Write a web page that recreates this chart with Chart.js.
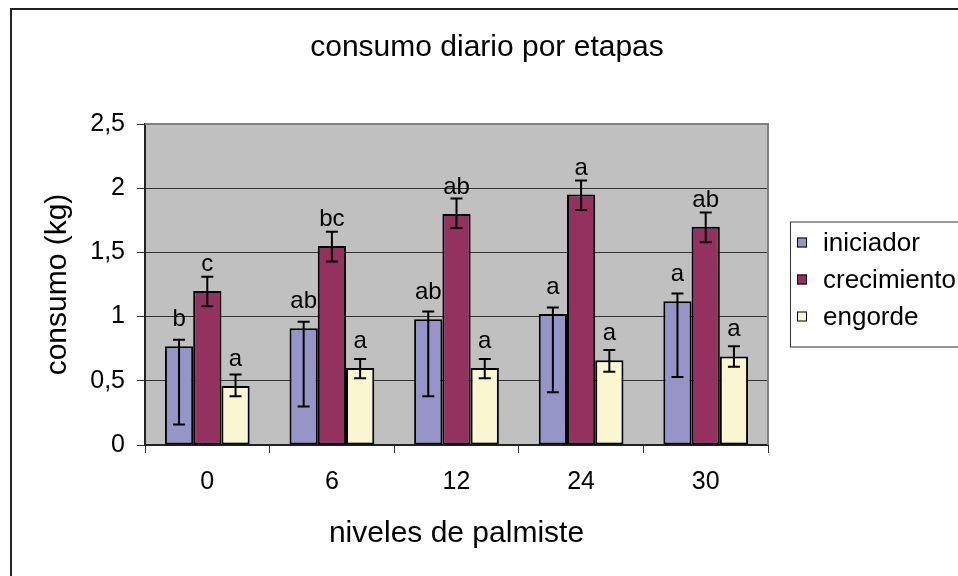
<!DOCTYPE html>
<html>
<head>
<meta charset="utf-8">
<script src="https://cdn.jsdelivr.net/npm/chart.js@4"></script>
<style>
  body { margin: 0; background: #fff; }
  #wrap { width: 958px; height: 576px; }
</style>
</head>
<body>
<div id="wrap"><canvas id="consumoChart"></canvas></div>
<script>
const niveles = ['0', '6', '12', '24', '30'];
const yTickLabels = ['0', '0,5', '1', '1,5', '2', '2,5'];

const iniciador = [0.77, 0.91, 0.98, 1.02, 1.12];
const crecimiento = [1.20, 1.55, 1.80, 1.95, 1.70];
const engorde = [0.46, 0.60, 0.60, 0.66, 0.69];

// error bars (plus / minus)
const iniciadorPlus = [0.05, 0.05, 0.06, 0.05, 0.06];
const iniciadorMinus = [0.61, 0.61, 0.60, 0.61, 0.59];
const crecimientoPlus = [0.11, 0.11, 0.12, 0.11, 0.11];
const crecimientoMinus = [0.12, 0.12, 0.11, 0.12, 0.12];
const engordePlus = [0.09, 0.07, 0.07, 0.08, 0.08];
const engordeMinus = [0.08, 0.08, 0.08, 0.09, 0.08];

// significance letters
const iniciadorLetras = ['b', 'ab', 'ab', 'a', 'a'];
const crecimientoLetras = ['c', 'bc', 'ab', 'a', 'ab'];
const engordeLetras = ['a', 'a', 'a', 'a', 'a'];

const FONT = "'Liberation Sans', Arial, sans-serif";

const errores = [
  { plus: iniciadorPlus, minus: iniciadorMinus, letras: iniciadorLetras },
  { plus: crecimientoPlus, minus: crecimientoMinus, letras: crecimientoLetras },
  { plus: engordePlus, minus: engordeMinus, letras: engordeLetras }
];

// gray plot background + outer frame
const fondoPlugin = {
  id: 'fondo',
  beforeDraw(chart) {
    const { ctx, chartArea: a } = chart;
    ctx.save();
    ctx.strokeStyle = '#222';
    ctx.lineWidth = 2;
    ctx.strokeRect(11, 9, 1000, 1000);
    ctx.fillStyle = '#c0c0c0';
    ctx.fillRect(a.left, a.top, a.right - a.left, a.bottom - a.top);
    ctx.restore();
  },
  beforeDatasetsDraw(chart) {
    const { ctx, chartArea: a } = chart;
    ctx.save();
    ctx.strokeStyle = '#808080';
    ctx.lineWidth = 2;
    ctx.beginPath();
    ctx.moveTo(a.left, a.top);
    ctx.lineTo(a.right, a.top);
    ctx.lineTo(a.right, a.bottom);
    ctx.stroke();
    ctx.restore();
  }
};

// error bars and letters above bars
const erroresPlugin = {
  id: 'errores',
  afterDatasetsDraw(chart) {
    const { ctx } = chart;
    const y = chart.scales.y;
    ctx.save();
    chart.data.datasets.forEach((ds, i) => {
      const meta = chart.getDatasetMeta(i);
      const e = errores[i];
      meta.data.forEach((bar, j) => {
        const v = ds.data[j];
        const yHi = y.getPixelForValue(v + e.plus[j]);
        const yLo = y.getPixelForValue(v - e.minus[j]);
        ctx.strokeStyle = '#000';
        ctx.lineWidth = 2;
        ctx.beginPath();
        ctx.moveTo(bar.x, yHi);
        ctx.lineTo(bar.x, yLo);
        ctx.moveTo(bar.x - 6, yHi);
        ctx.lineTo(bar.x + 6, yHi);
        ctx.moveTo(bar.x - 6, yLo);
        ctx.lineTo(bar.x + 6, yLo);
        ctx.stroke();

        ctx.fillStyle = '#000';
        ctx.font = '24px ' + FONT;
        ctx.textAlign = 'center';
        ctx.textBaseline = 'alphabetic';
        ctx.fillText(e.letras[j], bar.x, bar.y - 20);
      });
    });
    ctx.restore();
  }
};

// boxed legend on the right
const leyendaPlugin = {
  id: 'leyenda',
  afterDraw(chart) {
    const { ctx, chartArea: a } = chart;
    const left = a.right + 22;
    const top = (a.top + a.bottom) / 2 - 63;
    ctx.save();
    ctx.fillStyle = '#fff';
    ctx.fillRect(left, top, 300, 125);
    ctx.strokeStyle = '#333';
    ctx.lineWidth = 1;
    ctx.strokeRect(left + 0.5, top + 0.5, 300, 125);
    chart.data.datasets.forEach((ds, i) => {
      const cy = top + 21 + i * 37;
      ctx.fillStyle = ds.backgroundColor;
      ctx.fillRect(left + 7, cy - 5, 10, 10);
      ctx.strokeStyle = '#000';
      ctx.strokeRect(left + 7.5, cy - 4.5, 9, 9);
      ctx.fillStyle = '#000';
      ctx.font = '26px ' + FONT;
      ctx.textAlign = 'left';
      ctx.textBaseline = 'middle';
      ctx.fillText(ds.label, left + 33, cy + 1);
    });
    ctx.restore();
  }
};

const ctx = document.getElementById('consumoChart');

new Chart(ctx, {
  type: 'bar',
  data: {
    labels: niveles,
    datasets: [
      {
        label: 'iniciador',
        data: iniciador,
        backgroundColor: '#9595c8',
        borderColor: '#000',
        borderWidth: 2,
        borderSkipped: false
      },
      {
        label: 'crecimiento',
        data: crecimiento,
        backgroundColor: '#93325e',
        borderColor: '#000',
        borderWidth: 2,
        borderSkipped: false
      },
      {
        label: 'engorde',
        data: engorde,
        backgroundColor: '#faf7d0',
        borderColor: '#000',
        borderWidth: 2,
        borderSkipped: false
      }
    ]
  },
  options: {
    responsive: true,
    maintainAspectRatio: false,
    animation: false,
    layout: { padding: { left: 16, right: 0, top: 0, bottom: 0 } },
    datasets: {
      bar: { categoryPercentage: 0.68, barPercentage: 1 }
    },
    plugins: {
      legend: { display: false },
      tooltip: { enabled: false },
      title: {
        display: true,
        text: 'consumo diario por etapas',
        color: '#000',
        font: { family: FONT, size: 30, weight: 'normal' },
        padding: { top: 30, bottom: 58 }
      }
    },
    scales: {
      x: {
        afterFit: (s) => { s.height = 131; },
        grid: {
          drawOnChartArea: false,
          drawTicks: true,
          tickLength: 8,
          tickColor: '#333',
          lineWidth: 1
        },
        border: { display: true, color: '#222', width: 2 },
        ticks: {
          color: '#000',
          padding: 14,
          font: { family: FONT, size: 25 }
        },
        title: {
          display: true,
          text: 'niveles de palmiste',
          color: '#000',
          font: { family: FONT, size: 30, weight: 'normal' },
          padding: { top: 0, bottom: 24 }
        }
      },
      y: {
        min: 0,
        max: 2.5,
        afterFit: (s) => { s.width = 129; },
        grid: {
          color: (c) => (c.tick && c.tick.value === 2.5 ? 'rgba(0,0,0,0)' : '#333'),
          tickColor: '#333',
          tickLength: 8,
          lineWidth: 1
        },
        border: { display: true, color: '#222', width: 2 },
        ticks: {
          stepSize: 0.5,
          color: '#000',
          padding: 12,
          font: { family: FONT, size: 25 },
          callback: (value, index) => yTickLabels[index]
        },
        title: {
          display: true,
          text: 'consumo (kg)',
          color: '#000',
          font: { family: FONT, size: 30, weight: 'normal' },
          padding: { top: 24, bottom: 0 }
        }
      },
      pad: {
        position: 'right',
        display: true,
        afterFit: (s) => { s.width = 190; },
        grid: { display: false },
        border: { display: false },
        ticks: { display: false }
      }
    }
  },
  plugins: [fondoPlugin, erroresPlugin, leyendaPlugin]
});
</script>
</body>
</html>
